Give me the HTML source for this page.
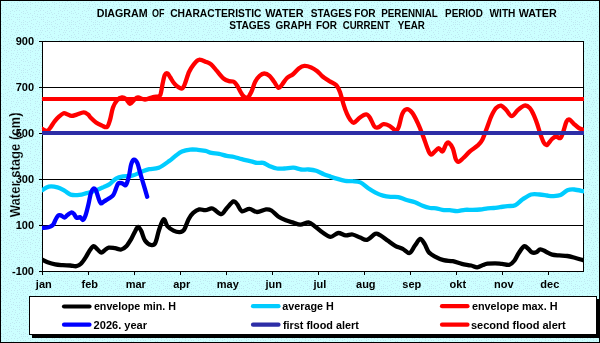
<!DOCTYPE html>
<html><head><meta charset="utf-8"><style>
html,body{margin:0;padding:0;width:600px;height:343px;overflow:hidden;background:#fff}
svg{display:block;will-change:transform}
text{font-family:"Liberation Sans",sans-serif;font-weight:bold;fill:#000}
</style></head><body>
<svg width="600" height="343" viewBox="0 0 600 343">
<defs>
<pattern id="dots" width="24" height="24" patternUnits="userSpaceOnUse">
<rect width="24" height="24" fill="#ccffff"/>
<path d="M13 5h1v1h-1zM8 3h1v1h-1zM11 2h1v1h-1zM3 6h1v1h-1zM18 6h1v1h-1zM12 10h1v1h-1zM17 19h1v1h-1zM19 10h1v1h-1zM23 20h1v1h-1zM6 9h1v1h-1zM13 21h1v1h-1zM23 22h1v1h-1zM6 7h1v1h-1zM21 7h1v1h-1zM3 22h1v1h-1zM16 10h1v1h-1zM19 1h1v1h-1zM21 0h1v1h-1zM5 17h1v1h-1zM9 19h1v1h-1zM23 13h1v1h-1zM3 0h1v1h-1zM15 22h1v1h-1zM6 13h1v1h-1zM11 19h1v1h-1zM17 17h1v1h-1zM6 4h1v1h-1zM15 8h1v1h-1zM19 14h1v1h-1zM19 17h1v1h-1zM23 4h1v1h-1zM23 6h1v1h-1zM1 21h1v1h-1zM19 21h1v1h-1zM17 8h1v1h-1zM0 17h1v1h-1zM16 6h1v1h-1zM1 8h1v1h-1zM16 14h1v1h-1zM10 13h1v1h-1zM21 12h1v1h-1zM15 0h1v1h-1zM7 20h1v1h-1zM10 11h1v1h-1zM11 5h1v1h-1zM21 16h1v1h-1zM13 14h1v1h-1zM5 21h1v1h-1zM11 16h1v1h-1zM14 11h1v1h-1zM2 10h1v1h-1zM9 0h1v1h-1zM1 4h1v1h-1zM23 11h1v1h-1zM7 23h1v1h-1zM14 2h1v1h-1zM23 0h1v1h-1zM19 19h1v1h-1zM3 17h1v1h-1zM17 2h1v1h-1zM12 23h1v1h-1zM8 15h1v1h-1zM20 4h1v1h-1zM11 7h1v1h-1zM13 16h1v1h-1zM1 13h1v1h-1zM3 12h1v1h-1zM4 2h1v1h-1zM8 17h1v1h-1zM15 17h1v1h-1zM22 2h1v1h-1zM21 22h1v1h-1zM4 14h1v1h-1zM6 2h1v1h-1zM1 0h1v1h-1zM17 4h1v1h-1z" fill="#bfe8f1"/>
</pattern>
</defs>
<rect x="0" y="0" width="600" height="343" fill="url(#dots)"/>
<rect x="0.5" y="0.5" width="599" height="342" fill="none" stroke="#000" stroke-width="1"/>
<g font-size="10.5"><text x="96.68" y="17" textLength="50.99" lengthAdjust="spacingAndGlyphs">DIAGRAM</text><text x="152.0" y="17" textLength="12.51" lengthAdjust="spacingAndGlyphs">OF</text><text x="170.2" y="17" textLength="91.34" lengthAdjust="spacingAndGlyphs">CHARACTERISTIC</text><text x="265.2" y="17" textLength="38.45" lengthAdjust="spacingAndGlyphs">WATER</text><text x="310.7" y="17" textLength="41.19" lengthAdjust="spacingAndGlyphs">STAGES</text><text x="354.23" y="17" textLength="21.43" lengthAdjust="spacingAndGlyphs">FOR</text><text x="381.27" y="17" textLength="56.57" lengthAdjust="spacingAndGlyphs">PERENNIAL</text><text x="445.06" y="17" textLength="37.89" lengthAdjust="spacingAndGlyphs">PERIOD</text><text x="489.5" y="17" textLength="25.9" lengthAdjust="spacingAndGlyphs">WITH</text><text x="518.7" y="17" textLength="38.04" lengthAdjust="spacingAndGlyphs">WATER</text><text x="229.2" y="29" textLength="41.19" lengthAdjust="spacingAndGlyphs">STAGES</text><text x="275.6" y="29" textLength="35.87" lengthAdjust="spacingAndGlyphs">GRAPH</text><text x="315.95" y="29" textLength="21.12" lengthAdjust="spacingAndGlyphs">FOR</text><text x="342.7" y="29" textLength="47.12" lengthAdjust="spacingAndGlyphs">CURRENT</text><text x="397.7" y="29" textLength="27.17" lengthAdjust="spacingAndGlyphs">YEAR</text></g>
<rect x="42" y="41" width="541" height="230" fill="#fff"/>
<g stroke="#000" stroke-width="1" shape-rendering="crispEdges"><line x1="39" y1="41.5" x2="583" y2="41.5"/><line x1="39" y1="87.5" x2="583" y2="87.5"/><line x1="39" y1="133.5" x2="583" y2="133.5"/><line x1="39" y1="179.5" x2="583" y2="179.5"/><line x1="39" y1="225.5" x2="583" y2="225.5"/><line x1="39" y1="271.5" x2="583" y2="271.5"/><line x1="42.5" y1="271" x2="42.5" y2="275"/><line x1="88.5" y1="271" x2="88.5" y2="275"/><line x1="134.5" y1="271" x2="134.5" y2="275"/><line x1="180.5" y1="271" x2="180.5" y2="275"/><line x1="226.5" y1="271" x2="226.5" y2="275"/><line x1="272.5" y1="271" x2="272.5" y2="275"/><line x1="318.5" y1="271" x2="318.5" y2="275"/><line x1="364.5" y1="271" x2="364.5" y2="275"/><line x1="410.5" y1="271" x2="410.5" y2="275"/><line x1="456.5" y1="271" x2="456.5" y2="275"/><line x1="502.5" y1="271" x2="502.5" y2="275"/><line x1="548.5" y1="271" x2="548.5" y2="275"/>
<line x1="42.5" y1="41" x2="42.5" y2="272"/>
<line x1="583.5" y1="41" x2="583.5" y2="272"/>
</g>
<text transform="translate(20,217.3) rotate(-90)" font-size="14.5" stroke="#ccffff" stroke-width="0.2" textLength="104.8" lengthAdjust="spacingAndGlyphs">Water stage (cm)</text>
<g font-size="11" text-anchor="end"><text x="34" y="44.7">900</text><text x="34" y="90.7">700</text><text x="34" y="136.7">500</text><text x="34" y="182.7">300</text><text x="34" y="228.7">100</text><text x="34" y="274.7">-100</text></g>
<g font-size="11" text-anchor="middle"><text x="43.8" y="287.8">jan</text><text x="89.8" y="287.8">feb</text><text x="135.8" y="287.8">mar</text><text x="181.8" y="287.8">apr</text><text x="227.8" y="287.8">may</text><text x="273.8" y="287.8">jun</text><text x="319.8" y="287.8">jul</text><text x="365.8" y="287.8">aug</text><text x="411.8" y="287.8">sep</text><text x="457.8" y="287.8">okt</text><text x="503.8" y="287.8">nov</text><text x="549.8" y="287.8">dec</text></g>
<clipPath id="pc"><rect x="42" y="0" width="542" height="343"/></clipPath>
<g fill="none" stroke-width="4.3" stroke-linecap="round" stroke-linejoin="round" clip-path="url(#pc)">
<path d="M42.3 190.2 C43.4 189.6 46.2 187.1 48.7 186.6 C51.2 186.1 54.8 186.6 57.5 187.3 C60.2 188.0 62.6 189.7 64.8 190.9 C67.0 192.1 68.2 193.9 70.6 194.6 C73.0 195.3 76.7 195.2 79.4 194.9 C82.1 194.7 84.8 193.5 86.6 193.1 C88.4 192.7 88.2 193.0 90.0 192.4 C91.8 191.8 95.3 190.6 97.6 189.7 C99.9 188.8 101.6 188.0 103.6 187.1 C105.6 186.2 107.6 185.5 109.7 184.1 C111.8 182.7 113.7 179.9 116.0 178.6 C118.3 177.3 120.6 176.9 123.3 176.4 C126.0 175.9 128.9 176.5 132.1 175.7 C135.3 174.9 139.4 172.6 142.3 171.5 C145.2 170.4 146.6 169.8 149.3 169.2 C152.0 168.6 155.4 169.2 158.7 167.8 C162.0 166.4 166.3 163.1 169.2 161.0 C172.1 158.9 173.9 157.1 176.0 155.5 C178.1 153.9 179.6 152.5 182.0 151.5 C184.4 150.5 187.5 149.9 190.2 149.6 C192.8 149.3 195.3 149.6 197.9 149.8 C200.5 150.0 203.2 150.4 205.5 150.9 C207.8 151.4 209.2 152.4 211.5 152.9 C213.8 153.4 216.6 153.4 219.1 153.9 C221.6 154.4 224.2 155.4 226.7 155.9 C229.2 156.4 231.7 156.4 234.2 157.0 C236.7 157.6 239.0 158.5 241.8 159.2 C244.6 159.9 248.5 160.8 251.1 161.4 C253.7 162.0 255.1 162.7 257.1 162.9 C259.1 163.2 261.2 162.4 263.2 162.9 C265.2 163.4 266.9 165.0 269.2 165.9 C271.5 166.8 274.3 168.1 276.8 168.5 C279.3 168.9 281.6 168.6 284.4 168.5 C287.2 168.4 290.7 167.5 293.5 167.7 C296.3 167.9 298.6 169.2 301.1 169.5 C303.6 169.8 306.1 169.3 308.6 169.5 C311.1 169.7 313.7 170.0 316.2 170.8 C318.7 171.6 321.5 173.3 323.8 174.2 C326.1 175.1 327.7 175.6 330.0 176.4 C332.3 177.2 335.1 178.2 337.6 178.9 C340.1 179.7 342.7 180.5 345.2 180.9 C347.7 181.3 350.2 180.9 352.7 181.2 C355.2 181.4 357.8 181.3 360.3 182.4 C362.8 183.5 365.4 186.3 367.9 188.0 C370.4 189.7 373.0 191.3 375.5 192.6 C378.0 193.9 380.5 194.9 383.0 195.6 C385.5 196.3 388.1 196.6 390.6 196.8 C393.1 197.1 395.7 196.6 398.2 197.1 C400.7 197.6 403.0 198.8 405.8 199.7 C408.6 200.6 412.2 201.3 415.0 202.3 C417.8 203.3 420.1 204.9 422.6 205.8 C425.1 206.8 427.9 207.6 430.2 208.0 C432.5 208.4 434.2 208.0 436.2 208.3 C438.2 208.6 440.0 209.5 442.3 209.8 C444.6 210.1 447.3 210.0 449.8 210.2 C452.3 210.4 454.9 211.2 457.4 211.1 C459.9 211.0 462.5 210.0 465.0 209.8 C467.5 209.6 470.1 209.9 472.6 209.8 C475.1 209.8 477.7 209.8 480.2 209.5 C482.7 209.2 485.4 208.6 487.7 208.3 C490.0 208.1 491.8 208.2 493.8 208.0 C495.9 207.8 497.7 207.4 500.0 207.1 C502.3 206.8 505.1 206.4 507.6 206.1 C510.1 205.8 512.7 206.3 515.2 205.2 C517.7 204.1 520.1 201.1 522.7 199.3 C525.4 197.5 528.3 195.3 531.1 194.5 C533.9 193.7 536.8 194.3 539.4 194.5 C542.0 194.7 544.7 195.2 547.0 195.5 C549.3 195.8 550.7 196.2 553.0 196.1 C555.3 196.0 558.2 196.0 560.6 195.0 C563.0 194.0 565.1 191.1 567.4 190.2 C569.7 189.3 571.6 189.3 574.2 189.5 C576.8 189.7 581.5 190.9 583.0 191.2" stroke="#00ccff"/>
<path d="M42.3 259.6 C43.2 260.0 45.5 261.4 47.6 262.2 C49.8 263.0 52.7 263.9 55.2 264.4 C57.7 264.9 60.2 265.0 62.7 265.2 C65.2 265.4 68.0 265.3 70.3 265.5 C72.6 265.7 74.6 266.5 76.4 266.2 C78.2 265.9 79.4 265.1 80.9 263.7 C82.4 262.3 84.0 259.9 85.5 257.6 C87.0 255.3 88.6 251.9 90.0 250.0 C91.4 248.1 92.5 246.3 93.8 246.2 C95.1 246.1 96.3 248.4 97.6 249.5 C98.8 250.6 100.1 252.5 101.3 252.6 C102.5 252.7 103.8 250.8 105.0 250.0 C106.2 249.2 107.1 247.9 108.8 247.6 C110.5 247.3 112.9 247.9 115.0 248.2 C117.1 248.5 119.4 249.8 121.3 249.5 C123.2 249.2 124.6 248.1 126.3 246.3 C128.0 244.5 129.8 241.3 131.3 238.8 C132.8 236.3 133.9 233.3 135.1 231.3 C136.2 229.3 137.1 226.9 138.2 226.9 C139.2 226.9 140.3 229.0 141.4 231.3 C142.5 233.6 143.4 238.2 145.0 240.5 C146.6 242.8 149.3 244.6 151.0 245.0 C152.7 245.4 154.0 245.5 155.3 243.0 C156.7 240.5 157.7 233.8 159.1 229.8 C160.5 225.8 162.2 219.8 163.6 219.2 C165.0 218.6 165.8 224.2 167.4 226.1 C169.1 228.0 171.5 229.6 173.5 230.6 C175.5 231.6 177.7 232.2 179.5 232.1 C181.3 232.0 182.6 232.0 184.1 229.8 C185.6 227.7 187.1 222.0 188.6 219.2 C190.1 216.4 191.4 214.5 193.2 212.9 C195.0 211.3 197.2 209.9 199.2 209.4 C201.2 208.9 203.3 210.4 205.3 210.2 C207.3 210.0 209.9 208.4 211.4 208.3 C212.9 208.2 212.8 208.7 214.5 209.7 C216.2 210.7 219.4 214.4 221.4 214.2 C223.4 213.9 224.7 210.3 226.7 208.2 C228.7 206.1 231.7 202.0 233.5 201.4 C235.3 200.8 235.9 202.8 237.3 204.4 C238.7 206.0 239.8 210.4 241.8 211.2 C243.8 211.9 246.9 208.8 249.4 208.9 C251.9 209.0 254.2 211.9 257.0 212.0 C259.8 212.1 263.7 209.7 266.1 209.4 C268.5 209.2 269.4 209.3 271.4 210.5 C273.4 211.7 275.8 214.9 278.2 216.5 C280.6 218.1 283.3 219.3 285.8 220.3 C288.3 221.3 290.9 221.9 293.3 222.6 C295.7 223.3 297.8 224.7 300.3 224.7 C302.9 224.7 306.2 222.2 308.6 222.4 C311.0 222.7 312.4 224.5 314.7 226.2 C317.0 227.8 319.6 230.5 322.3 232.3 C325.0 234.1 328.0 236.7 330.6 236.8 C333.2 236.9 335.7 233.2 338.2 233.0 C340.7 232.8 343.4 235.1 345.8 235.3 C348.2 235.6 350.2 234.1 352.6 234.5 C355.0 234.9 357.8 236.7 360.2 237.6 C362.6 238.5 364.5 240.4 367.0 239.8 C369.5 239.2 373.1 234.6 375.3 233.8 C377.5 233.0 377.9 234.1 380.0 235.2 C382.1 236.3 385.1 238.7 387.6 240.5 C390.1 242.3 392.7 244.4 395.2 245.8 C397.7 247.2 400.3 247.6 402.7 248.8 C405.1 250.0 407.5 253.5 409.5 253.0 C411.5 252.5 413.0 248.2 414.8 245.8 C416.6 243.5 418.6 239.2 420.2 238.9 C421.8 238.6 423.3 242.0 424.7 244.2 C426.1 246.3 426.9 249.8 428.5 251.8 C430.1 253.8 432.0 255.0 434.5 256.4 C437.0 257.8 440.6 259.4 443.6 260.2 C446.6 261.0 449.7 260.6 452.7 261.2 C455.7 261.8 458.7 263.2 461.8 263.9 C464.9 264.6 468.5 264.9 471.1 265.5 C473.7 266.1 475.2 267.4 477.2 267.3 C479.2 267.2 481.3 265.6 483.0 265.0 C484.7 264.4 485.5 264.0 487.5 263.7 C489.5 263.4 492.6 263.3 495.0 263.3 C497.4 263.3 499.6 263.7 502.0 263.9 C504.4 264.1 507.4 265.3 509.5 264.7 C511.6 264.1 513.0 262.4 514.5 260.5 C516.0 258.6 517.2 255.4 518.8 253.0 C520.4 250.6 522.6 246.9 524.1 246.2 C525.6 245.4 526.6 247.5 527.9 248.5 C529.2 249.5 530.3 251.7 531.7 252.3 C533.1 252.9 534.8 252.8 536.2 252.3 C537.6 251.8 538.7 249.4 540.3 249.3 C541.9 249.2 544.0 250.8 546.0 251.7 C548.0 252.6 550.0 254.0 552.2 254.6 C554.4 255.2 556.7 255.2 559.2 255.4 C561.7 255.6 564.6 255.6 567.3 256.0 C570.0 256.4 572.9 257.3 575.5 258.0 C578.1 258.7 581.8 259.8 583.0 260.1" stroke="#000"/>
<path d="M40.0 128.3 C40.3 128.4 40.8 128.5 42.0 128.9 C43.2 129.3 45.7 131.2 47.2 130.8 C48.7 130.5 49.8 128.4 51.0 126.8 C52.2 125.2 53.2 123.0 54.6 121.3 C56.0 119.6 57.7 117.7 59.2 116.4 C60.7 115.1 62.3 113.7 63.6 113.3 C64.9 112.9 65.8 113.8 67.1 114.2 C68.4 114.6 69.9 115.8 71.5 115.9 C73.1 116.0 74.7 115.2 76.7 114.6 C78.7 114.0 81.8 112.4 83.7 112.4 C85.6 112.4 87.0 113.8 88.1 114.6 C89.2 115.4 89.2 116.2 90.5 117.5 C91.8 118.8 94.1 121.1 96.0 122.4 C97.9 123.8 100.2 124.8 102.0 125.6 C103.8 126.4 105.7 127.9 107.0 127.0 C108.3 126.1 109.0 123.2 110.0 120.0 C111.0 116.8 111.8 110.8 113.0 107.5 C114.2 104.2 115.5 102.0 117.0 100.3 C118.5 98.6 120.5 97.7 122.0 97.5 C123.5 97.3 124.7 98.0 126.0 99.0 C127.3 100.0 128.7 103.6 130.0 103.8 C131.3 104.0 132.7 101.0 134.0 100.0 C135.3 99.0 136.2 97.6 138.0 97.5 C139.8 97.4 142.5 99.6 145.0 99.5 C147.5 99.4 150.6 97.6 153.0 97.0 C155.4 96.4 158.1 97.0 159.5 96.0 C160.9 95.0 160.8 93.1 161.3 91.0 C161.8 88.9 162.1 86.0 162.7 83.3 C163.3 80.6 164.0 76.6 164.8 75.0 C165.6 73.4 166.7 73.1 167.6 73.5 C168.5 73.9 169.0 75.5 170.2 77.3 C171.4 79.1 172.8 82.2 174.7 84.1 C176.6 86.0 179.9 88.5 181.5 88.6 C183.1 88.7 183.2 87.6 184.5 84.8 C185.8 82.0 187.5 75.3 189.0 72.0 C190.5 68.7 191.8 66.8 193.4 64.8 C195.1 62.8 196.7 60.2 198.9 59.8 C201.1 59.3 204.5 61.3 206.5 62.1 C208.5 62.9 209.3 62.9 211.1 64.4 C212.9 65.9 215.0 68.8 217.1 71.2 C219.2 73.6 221.9 77.2 223.9 78.8 C225.9 80.4 227.5 80.6 229.2 81.1 C230.8 81.6 232.4 80.9 233.8 81.8 C235.2 82.7 236.1 84.1 237.6 86.4 C239.1 88.7 241.2 93.7 242.9 95.5 C244.6 97.3 246.2 98.1 247.6 97.5 C249.0 96.9 250.1 94.3 251.4 91.7 C252.7 89.1 253.8 84.5 255.2 81.8 C256.6 79.1 258.2 77.2 259.7 75.8 C261.2 74.4 262.6 73.5 264.2 73.5 C265.8 73.5 267.9 74.4 269.5 75.8 C271.1 77.2 272.6 79.8 274.1 81.8 C275.6 83.8 277.2 87.5 278.6 87.9 C280.0 88.3 281.0 85.8 282.4 84.1 C283.8 82.4 285.2 79.7 287.0 78.0 C288.8 76.3 291.0 75.8 293.0 74.2 C295.0 72.6 297.2 69.6 299.1 68.2 C301.0 66.8 302.4 66.0 304.4 65.9 C306.4 65.8 309.0 66.5 311.2 67.4 C313.4 68.3 315.4 69.7 317.3 71.2 C319.2 72.7 320.6 74.8 322.6 76.5 C324.6 78.2 327.1 79.6 329.4 81.1 C331.7 82.5 334.6 83.3 336.4 85.2 C338.2 87.1 339.1 89.7 340.2 92.7 C341.3 95.7 342.1 99.8 343.2 103.3 C344.3 106.8 345.8 111.2 347.0 113.9 C348.2 116.6 349.1 118.2 350.2 119.7 C351.3 121.2 352.3 123.1 353.9 122.7 C355.5 122.3 358.0 118.8 360.0 117.4 C362.0 116.0 364.5 114.4 366.1 114.4 C367.7 114.4 368.4 115.4 369.8 117.4 C371.2 119.4 373.0 124.8 374.4 126.5 C375.8 128.2 376.7 127.7 378.2 127.3 C379.7 126.9 381.6 124.5 383.5 124.2 C385.4 124.0 387.5 124.8 389.5 125.8 C391.5 126.8 394.1 130.1 395.6 130.3 C397.1 130.6 397.5 130.1 398.6 127.3 C399.7 124.5 401.0 116.6 402.4 113.6 C403.8 110.6 405.4 109.2 407.0 109.1 C408.6 109.0 410.5 110.6 412.3 112.9 C414.1 115.2 415.8 118.9 417.6 122.7 C419.4 126.5 421.1 131.0 422.9 135.6 C424.7 140.2 426.9 147.3 428.3 150.5 C429.7 153.7 430.0 154.4 431.1 154.6 C432.2 154.8 433.6 152.5 434.9 151.4 C436.2 150.3 437.4 148.2 438.7 148.2 C440.0 148.2 441.2 152.1 442.5 151.4 C443.8 150.7 445.2 145.2 446.3 143.8 C447.4 142.4 448.0 142.1 449.1 142.9 C450.2 143.7 451.8 145.9 452.9 148.6 C454.0 151.3 454.8 156.8 455.7 159.0 C456.6 161.2 457.3 162.0 458.6 161.8 C459.9 161.6 461.4 159.7 463.3 158.0 C465.2 156.3 467.5 153.5 469.9 151.4 C472.3 149.3 475.4 147.6 477.5 145.7 C479.6 143.8 480.6 143.0 482.2 140.0 C483.8 137.0 485.4 131.8 487.0 127.7 C488.6 123.6 490.1 118.7 491.7 115.4 C493.3 112.1 494.8 109.4 496.4 107.8 C498.0 106.2 499.4 105.2 501.1 105.6 C502.8 106.0 504.6 108.4 506.4 110.2 C508.2 112.0 509.8 116.2 511.7 116.2 C513.6 116.2 515.6 112.0 517.7 110.2 C519.8 108.4 522.5 106.0 524.5 105.6 C526.5 105.2 528.3 106.4 529.8 107.9 C531.3 109.4 532.3 111.9 533.6 114.7 C534.9 117.5 536.2 121.2 537.4 124.5 C538.5 127.8 539.4 131.3 540.5 134.4 C541.6 137.5 542.9 141.2 544.0 143.0 C545.1 144.8 545.7 145.7 547.0 145.0 C548.3 144.3 550.5 140.4 552.0 139.0 C553.5 137.6 554.6 136.7 556.0 136.5 C557.4 136.3 559.2 138.9 560.5 138.0 C561.8 137.1 562.5 133.8 563.5 131.0 C564.5 128.2 565.5 123.4 566.5 121.5 C567.5 119.6 568.3 119.1 569.5 119.5 C570.7 119.9 572.3 122.5 573.8 123.8 C575.3 125.1 576.8 126.6 578.3 127.6 C579.8 128.6 582.2 129.4 583.0 129.8" stroke="#ff0000"/>
<line x1="42" y1="99" x2="584" y2="99" stroke="#ff0000" stroke-width="4" stroke-linecap="butt"/>
<line x1="42" y1="133" x2="584" y2="133" stroke="#2d2da6" stroke-width="4" stroke-linecap="butt"/>
<path d="M40.0 227.9 C40.4 227.9 41.2 228.0 42.5 227.9 C43.8 227.8 46.1 227.8 47.5 227.5 C48.9 227.2 49.8 226.8 50.8 226.3 C51.8 225.8 52.5 225.7 53.3 224.6 C54.1 223.5 54.6 221.5 55.4 220.0 C56.2 218.5 57.0 216.6 57.9 215.8 C58.8 215.0 59.7 215.1 60.8 215.4 C61.9 215.7 63.5 217.6 64.6 217.5 C65.7 217.4 66.4 215.8 67.5 215.0 C68.6 214.2 70.2 212.7 71.2 212.5 C72.2 212.3 72.9 212.9 73.8 213.8 C74.7 214.7 75.7 217.4 76.7 217.9 C77.7 218.4 79.0 216.8 80.0 217.1 C81.0 217.4 82.0 220.2 82.9 220.0 C83.8 219.8 84.5 218.3 85.4 215.8 C86.3 213.3 87.4 208.8 88.3 205.0 C89.2 201.2 90.0 196.0 90.8 193.3 C91.6 190.6 92.5 189.2 93.3 188.6 C94.1 188.0 95.0 188.5 95.8 190.0 C96.6 191.5 97.5 195.3 98.3 197.5 C99.1 199.7 99.8 202.7 100.8 203.3 C101.8 203.9 102.8 202.1 104.2 201.3 C105.6 200.5 107.7 199.4 109.2 198.3 C110.7 197.2 112.2 196.5 113.3 195.0 C114.4 193.5 115.0 191.1 115.8 189.2 C116.6 187.2 117.2 184.3 118.3 183.3 C119.4 182.3 121.0 183.1 122.3 183.4 C123.6 183.7 124.9 186.2 126.0 184.9 C127.1 183.6 128.2 179.2 129.0 175.8 C129.8 172.4 130.3 167.3 131.1 164.6 C131.9 161.9 132.8 159.9 133.9 159.7 C135.0 159.5 136.4 161.0 137.4 163.2 C138.4 165.4 139.1 169.4 140.2 173.0 C141.2 176.6 142.5 180.9 143.7 184.9 C144.9 188.9 146.6 194.8 147.2 196.8" stroke="#0000ff"/>
</g>
<rect x="32" y="299" width="567" height="39" fill="#000"/>
<rect x="29.5" y="296.5" width="567" height="38" fill="#fff" stroke="#000" stroke-width="1"/>
<g stroke-width="4.2" stroke-linecap="round">
<line x1="64" y1="306.5" x2="89.5" y2="306.5" stroke="#000"/>
<line x1="64" y1="324.7" x2="89.5" y2="324.7" stroke="#0000ff"/>
<line x1="253" y1="306.2" x2="278.5" y2="306.2" stroke="#00ccff"/>
<line x1="253" y1="324.7" x2="278.5" y2="324.7" stroke="#2d2da6"/>
<line x1="442" y1="306.2" x2="467.5" y2="306.2" stroke="#ff0000"/>
<line x1="442" y1="324.7" x2="467.5" y2="324.7" stroke="#ff0000"/>
</g>
<g font-size="11">
<text x="93.9" y="310" textLength="82.05" lengthAdjust="spacingAndGlyphs">envelope min. H</text>
<text x="93.6" y="328.8" textLength="53.42" lengthAdjust="spacingAndGlyphs">2026. year</text>
<text x="282.3" y="310" textLength="51.58" lengthAdjust="spacingAndGlyphs">average H</text>
<text x="282.9" y="328.8" textLength="75.92" lengthAdjust="spacingAndGlyphs">first flood alert</text>
<text x="471.9" y="310" textLength="85.62" lengthAdjust="spacingAndGlyphs">envelope max. H</text>
<text x="470.9" y="328.8" textLength="94.85" lengthAdjust="spacingAndGlyphs">second flood alert</text>
</g>
</svg>
</body></html>
